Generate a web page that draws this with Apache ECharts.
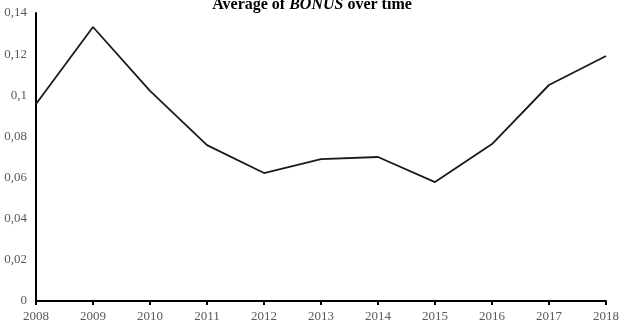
<!DOCTYPE html>
<html>
<head>
<meta charset="utf-8">
<script src="https://cdn.jsdelivr.net/npm/echarts@6/dist/echarts.min.js"></script>
<style>
  html, body { margin: 0; padding: 0; background: #fff; }
  #chart { width: 624px; height: 333px; }
</style>
</head>
<body>
<div id="chart"></div>
<script>
// years on the x axis
const years = ["2008", "2009", "2010", "2011", "2012", "2013", "2014", "2015", "2016", "2017", "2018"];
// average BONUS per year
const bonusAvg = [0.0958, 0.1332, 0.1021, 0.0758, 0.0622, 0.0690, 0.0700, 0.0578, 0.0763, 0.1050, 0.1191];

const chart = echarts.init(document.getElementById("chart"));

const option = {
  backgroundColor: "#fff",
  animation: false,
  textStyle: { fontFamily: "Liberation Serif" },
  title: {
    left: "center",
    top: -8,
    text: "{b|Average of }{i|BONUS}{b| over time}",
    textStyle: {
      rich: {
        b: { fontFamily: "Liberation Serif", fontWeight: "bold", fontSize: 16, color: "#000" },
        i: { fontFamily: "Liberation Serif", fontWeight: "bold", fontStyle: "italic", fontSize: 16, color: "#000" }
      }
    }
  },
  grid: { left: 36, right: 18, top: 13, bottom: 32, containLabel: false },
  xAxis: {
    type: "category",
    data: years,
    boundaryGap: false,
    axisLine: { lineStyle: { color: "#000", width: 2 } },
    axisTick: { show: true, length: 4, lineStyle: { color: "#000", width: 2 } },
    axisLabel: { color: "#595959", fontSize: 13, margin: 9, fontFamily: "Liberation Serif" },
    splitLine: { show: false }
  },
  yAxis: {
    type: "value",
    min: 0,
    max: 0.14,
    interval: 0.02,
    axisLine: { show: true, lineStyle: { color: "#000", width: 2 } },
    axisTick: { show: false },
    splitLine: { show: false },
    axisLabel: {
      color: "#595959",
      fontSize: 13,
      margin: 9,
      fontFamily: "Liberation Serif",
      formatter: v => String(Math.round(v * 100) / 100).replace(".", ",")
    }
  },
  series: [
    {
      type: "line",
      data: bonusAvg,
      symbol: "none",
      lineStyle: { color: "#1a1a1a", width: 1.8 }
    }
  ]
};

chart.setOption(option);
</script>
</body>
</html>
